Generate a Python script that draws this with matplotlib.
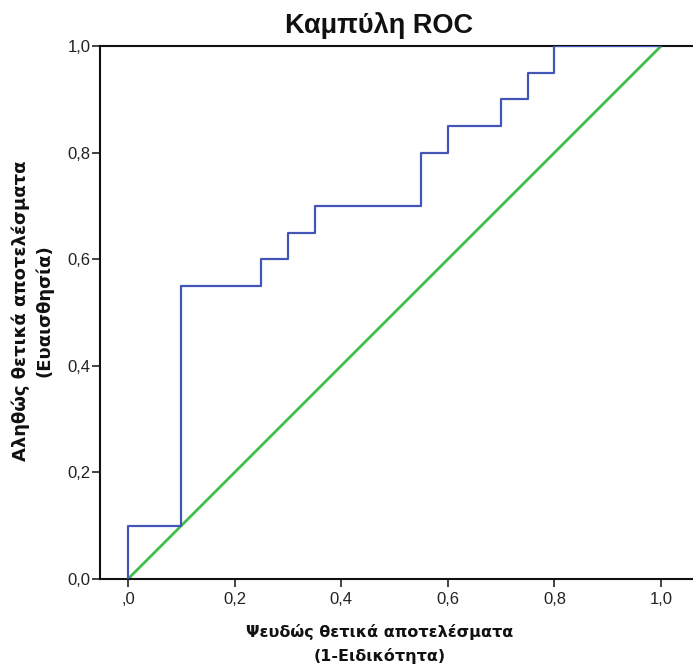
import matplotlib
matplotlib.use('Agg')
import matplotlib.pyplot as plt

# ROC curve points (1-specificity, sensitivity)
fpr = [0.0, 0.0, 0.1, 0.1, 0.25, 0.25, 0.3, 0.3, 0.35, 0.35, 0.55, 0.55,
       0.6, 0.6, 0.7, 0.7, 0.75, 0.75, 0.8, 0.8, 1.0]
tpr = [0.0, 0.1, 0.1, 0.55, 0.55, 0.6, 0.6, 0.65, 0.65, 0.7, 0.7, 0.8,
       0.8, 0.85, 0.85, 0.9, 0.9, 0.95, 0.95, 1.0, 1.0]
ref_line = [0.0, 1.0]

xticks = [0.0, 0.2, 0.4, 0.6, 0.8, 1.0]
xticklabels = [',0', '0,2', '0,4', '0,6', '0,8', '1,0']
yticks = [0.0, 0.2, 0.4, 0.6, 0.8, 1.0]
yticklabels = ['0,0', '0,2', '0,4', '0,6', '0,8', '1,0']

plt.rcParams['font.family'] = ['Liberation Sans', 'DejaVu Sans']

fig = plt.figure(figsize=(6.93, 6.66), dpi=100)
ax = fig.add_axes([100 / 693, 87 / 666, 600 / 693, 533 / 666])

ax.plot(ref_line, ref_line, color='#3FBF48', lw=2.0, zorder=2)
ax.plot(fpr, tpr, color='#4356B8', lw=1.6, zorder=3)

ax.set_xlim(-0.0525, 1.073)
ax.set_ylim(0, 1.0)

ax.set_xticks(xticks)
ax.set_xticklabels(xticklabels)
ax.set_yticks(yticks)
ax.set_yticklabels(yticklabels)
ax.tick_params(axis='both', labelsize=12, length=6, width=1.2, color='#222222',
               labelcolor='#222222')
ax.tick_params(axis='x', pad=3)
ax.tick_params(axis='y', pad=1)

ax.spines['right'].set_visible(False)
for side in ['left', 'top', 'bottom']:
    ax.spines[side].set_linewidth(1.5)
    ax.spines[side].set_color('#111111')

fig.text(379 / 693, 1 - 33 / 666, 'Καμπύλη ROC', ha='center', va='baseline',
         fontsize=19.5, fontweight='bold', color='#111111')

fig.text(380 / 693, 1 - 632 / 666, 'Ψευδώς θετικά αποτελέσματα', ha='center', va='center',
         fontsize=11.5, fontweight='bold', family=['DejaVu Sans'], color='#111111')
fig.text(380 / 693, 1 - 656 / 666, '(1-Ειδικότητα)', ha='center', va='center',
         fontsize=11.5, fontweight='bold', family=['DejaVu Sans'], color='#111111')

fig.text(21 / 693, 1 - 311 / 666, 'Αληθώς θετικά αποτελέσματα', ha='center', va='center',
         rotation=90, fontsize=13, fontweight='bold', family=['DejaVu Sans'], color='#111111')
fig.text(44 / 693, 1 - 311 / 666, '(Ευαισθησία)', ha='center', va='center',
         rotation=90, fontsize=13, fontweight='bold', family=['DejaVu Sans'], color='#111111')

fig.savefig('out.png', dpi=100)
